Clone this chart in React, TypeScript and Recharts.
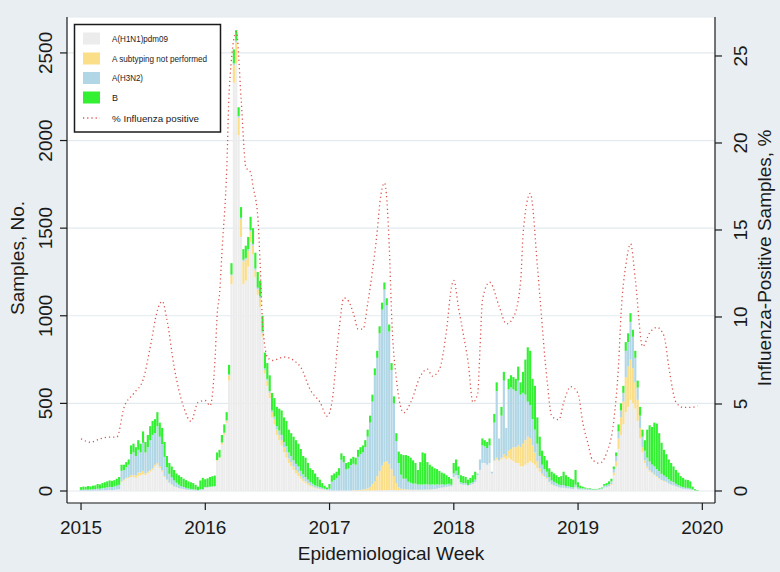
// Influenza surveillance chart: weekly samples by subtype with % positive line
import React from 'react';
import { ComposedChart, Bar, Line, XAxis, YAxis, CartesianGrid } from 'recharts';

const xTicks = [2015, 2016, 2017, 2018, 2019, 2020];
const leftTicks = [0, 500, 1000, 1500, 2000, 2500];
const rightTicks = [0, 5, 10, 15, 20, 25];

// weekly counts, 52 weeks per year, 2015..2019 (one row per year)
const h1n1 = [
  2,2,2,2,2,2,3,3,3,4, 4,5,5,5,6,8,10,50,60,70, 75,80,80,75,85,90,95,90,100,110, 120,140,150,130,110,80,60,45,35,25, 20,15,12,10,8,6,5,4,3,2, 4,5,
  20,20,22,23,25,170,185,265,320,390, 630,1180,2330,2440,2030,1450,1180,1200,1280,1420, 1350,1220,1120,1050,880,670,600,530,420,380, 320,290,260,220,190,160,140,120,100,85, 70,55,45,35,25,20,15,12,10,8, 5,4,
  3,3,3,3,3,3,3,3,3,3, 3,3,3,3,3,3,3,3,4,4, 4,4,4,5,5,5,5,5,5,5, 5,5,5,5,5,5,5,5,5,5, 6,6,6,8,10,12,15,18,20,22, 25,25,
  80,90,70,40,35,35,30,35,40,50, 90,120,160,160,150,160,100,170,180,170, 180,190,180,190,180,170,160,160,140,140, 150,160,170,160,150,130,110,90,80,70, 50,35,30,25,20,18,18,15,14,12, 10,20,
  10,8,8,8,6,6,5,5,5,7, 10,20,22,25,35,90,140,240,320,380, 450,480,520,500,470,400,300,220,160,130, 110,100,90,80,70,60,55,50,40,35, 30,25,20,15,12,10,10,8,5,2, 1,0,
];

const notSubtyped = [
  0,0,0,0,0,0,0,0,0,0, 0,0,0,0,0,0,0,5,5,5, 5,10,10,15,20,15,20,10,10,10, 10,10,10,10,8,5,5,3,2,2, 2,1,1,1,0,0,0,0,0,0, 0,0,
  0,0,0,0,0,5,5,10,10,10, 30,50,100,120,100,100,130,120,90,60, 50,40,30,50,20,20,30,30,30,30, 30,30,30,30,30,25,25,20,20,20, 15,15,10,10,8,6,5,4,3,2, 2,1,
  0,0,0,0,0,0,0,0,0,0, 2,2,3,3,5,8,12,20,35,50, 80,110,140,160,165,150,120,80,40,15, 8,5,5,3,2,2,2,2,2,2, 2,2,2,2,1,1,1,1,1,1, 1,1,
  0,0,0,0,0,0,0,0,0,0, 0,0,0,0,0,0,0,5,10,5, 10,20,20,40,60,80,90,100,110,130, 140,150,130,100,70,40,20,10,5,5, 2,2,2,1,1,1,1,1,1,1, 1,1,
  0,0,0,0,0,0,0,0,0,0, 0,0,0,2,5,15,30,60,100,130, 200,230,230,200,150,120,60,30,15,10, 8,6,5,5,4,3,3,2,2,1, 1,1,1,1,1,0,0,0,0,0, 0,0,
];

const h3n2 = [
  5,5,6,6,6,8,8,10,10,12, 14,16,18,18,20,22,25,60,55,60, 70,120,130,110,130,115,160,120,140,170, 190,180,210,170,150,110,70,50,40,33, 25,20,15,12,10,8,7,6,5,3, 6,5,
  2,2,3,3,3,2,2,2,3,3, 5,5,10,10,10,10,10,10,10,10, 10,10,10,10,10,10,10,10,10,15, 20,25,30,30,35,35,35,35,35,35, 30,25,25,20,18,15,12,10,10,8, 6,5,
  10,50,60,70,85,175,160,120,125,145, 150,145,189,204,212,239,295,367,471,606, 676,786,891,985,890,755,565,415,240,140, 80,60,60,45,40,35,35,30,30,30, 30,30,28,28,25,25,20,20,15,15, 15,10,
  20,25,20,10,10,10,5,10,10,15, 10,60,100,95,95,100,10,215,380,125, 240,420,160,350,350,330,320,370,300,290, 260,200,190,150,130,100,70,50,40,35, 28,23,20,18,15,15,15,12,12,10, 10,15,
  10,7,7,6,5,5,4,4,3,4, 5,10,10,13,15,20,30,40,40,50, 150,140,215,180,140,70,70,60,55,50, 50,45,45,40,40,35,30,28,25,22, 20,15,12,10,10,8,8,6,4,2, 1,0,
];

const fluB = [
  15,18,16,20,18,20,21,27,25,29, 32,34,37,35,36,40,45,35,30,30, 30,50,50,50,55,50,65,60,70,80, 80,80,80,80,92,85,65,62,63,60, 53,54,52,47,44,41,38,35,27,20, 50,65,
  45,50,55,58,60,43,43,43,47,47, 55,65,80,60,50,60,60,70,70,75, 90,90,90,90,90,90,90,90,100,105, 110,125,140,140,145,130,130,135,135,130, 125,105,110,95,79,79,68,54,42,27, 17,10,
  27,37,37,37,42,37,37,37,37,37, 40,40,40,40,40,40,40,40,40,40, 40,40,40,40,40,40,40,40,45,65, 117,135,135,147,143,133,118,83,128,183, 177,127,114,102,94,87,79,66,64,52, 39,34,
  60,65,50,40,40,35,30,30,40,45, 0,0,40,35,35,40,0,50,50,0, 50,50,0,60,70,70,70,80,70,120, 200,310,310,230,250,150,110,80,75,65, 50,50,48,46,44,51,76,62,53,47, 44,84,
  30,15,10,6,4,4,3,3,2,4, 5,10,13,15,15,15,20,40,40,40, 50,50,50,40,40,40,50,40,60,160, 207,214,250,260,216,177,147,130,113,102, 89,79,72,59,52,47,45,41,16,6, 3,0,
];

// % influenza positive, read at these week indexes (0 = 2015 week 1)
const pctWeeks = [
  0,4,8,12,15,18,22,26,29,32,34,36,39,43,46,49,52,54,56,57,58,59,61,62,65,67,69,71,72,74,75,76,78,80,85,89,92,96,
  100,103,105,108,110,112,114,116,118,120,122,124,125,127,129,130,132,135,138,142,145,147,150,153,155,156,158,160,
  162,164,166,167,168,171,175,178,181,184,185,188,191,192,195,197,200,202,205,208,210,212,214,217,220,223,225,226,
  228,230,232,235,238,241,244,246,249,252,255,258,
];
const pctValues = [
  3.0,2.8,3.0,3.1,3.1,4.8,5.6,6.4,8.3,10.4,10.9,9.8,7.1,4.8,4.0,5.1,5.2,4.9,7.4,10.2,11.4,13.8,18.6,23.0,26.4,22.5,
  18.6,18.3,17.5,15.7,12.9,9.6,7.7,7.5,7.7,7.5,7.1,5.8,
  5.1,4.3,5.1,9.3,11.1,10.9,10.2,9.3,9.3,10.8,12.7,15.0,16.5,17.7,14.0,10.0,6.4,4.5,5.1,6.6,7.0,6.6,7.0,9.3,11.7,12.1,10.5,9.0,
  7.4,5.1,5.6,8.3,11.0,12.0,10.6,9.6,10.0,12.1,14.8,17.1,12.9,11.2,6.4,4.3,4.1,5.1,6.0,5.6,3.9,2.8,1.8,1.6,2.2,4.1,7.4,10.2,
  13.0,14.2,12.1,8.3,9.1,9.4,8.9,7.1,5.1,4.8,4.8,4.9,
];

const rows: any[] = h1n1.map((v, i) => ({
  x: 2015 + i / 52,
  h1n1: v,
  notSubtyped: notSubtyped[i],
  h3n2: h3n2[i],
  fluB: fluB[i],
  pct: null,
}));
pctWeeks.forEach((w, k) => {
  rows[w].pct = pctValues[k];
});

const FONT = '"Liberation Sans", Arial, Helvetica, sans-serif';
const INK = '#1a1a1a';
const RED = '#d9534f';

const COLORS = {
  h1n1: '#ececec',
  notSubtyped: '#fbde88',
  h3n2: '#b1d7e6',
  fluB: '#33f033',
};

const bottomTick = (p: any) => (
  <text x={p.x} y={534} textAnchor="middle" fontSize={19} fontFamily={FONT} fill={INK}>
    {p.payload.value}
  </text>
);

// rotated labels, read bottom to top like the original
const leftTick = (p: any) => (
  <g transform={`translate(52 ${p.y})`}>
    <text transform="rotate(-90)" textAnchor="middle" fontSize={19} fontFamily={FONT} fill={INK}>
      {p.payload.value}
    </text>
  </g>
);

const rightTick = (p: any) => (
  <g transform={`translate(747 ${p.y})`}>
    <text transform="rotate(-90)" textAnchor="middle" fontSize={19} fontFamily={FONT} fill={INK}>
      {p.payload.value}
    </text>
  </g>
);

const legendItems = [
  { label: 'A(H1N1)pdm09', color: COLORS.h1n1, y: 38.5, len: 56 },
  { label: 'A subtyping not performed', color: COLORS.notSubtyped, y: 58.5, len: 95 },
  { label: 'A(H3N2)', color: COLORS.h3n2, y: 78, len: 31 },
  { label: 'B', color: COLORS.fluB, y: 97.5, len: 6 },
];

export default function App() {
  return (
    <div style={{ position: 'relative', width: 780, height: 572, background: '#e8eef1' }}>
      <style>{'body{margin:0}'}</style>
      <ComposedChart width={780} height={572} data={rows} margin={{ top: 17, right: 0, bottom: 0, left: 0 }}>
        <CartesianGrid vertical={false} stroke="#e3eaee" strokeWidth={1.2} fill="#ffffff" />
        <XAxis
          dataKey="x"
          type="number"
          domain={[2014.887, 2020.102]}
          ticks={xTicks}
          allowDataOverflow
          height={69}
          tickSize={7}
          tick={bottomTick}
          axisLine={{ stroke: INK, strokeWidth: 1.2 }}
          tickLine={{ stroke: INK, strokeWidth: 1.2 }}
        />
        <YAxis
          domain={[-68.5, 2705]}
          ticks={leftTicks}
          allowDataOverflow
          width={67}
          tickSize={7}
          tick={leftTick}
          axisLine={{ stroke: INK, strokeWidth: 1.2 }}
          tickLine={{ stroke: INK, strokeWidth: 1.2 }}
        />
        <YAxis
          yAxisId={1}
          orientation="right"
          domain={[-0.69, 27.24]}
          ticks={rightTicks}
          allowDataOverflow
          width={65}
          tickSize={7}
          tick={rightTick}
          axisLine={{ stroke: INK, strokeWidth: 1.2 }}
          tickLine={{ stroke: INK, strokeWidth: 1.2 }}
        />
        <Bar dataKey="h1n1" stackId="s" fill={COLORS.h1n1} barSize={3} isAnimationActive={false} />
        <Bar dataKey="notSubtyped" stackId="s" fill={COLORS.notSubtyped} barSize={3} isAnimationActive={false} />
        <Bar dataKey="h3n2" stackId="s" fill={COLORS.h3n2} barSize={3} isAnimationActive={false} />
        <Bar dataKey="fluB" stackId="s" fill={COLORS.fluB} barSize={3} isAnimationActive={false} />
        <Line
          yAxisId={1}
          dataKey="pct"
          type="monotone"
          stroke={RED}
          strokeWidth={1.3}
          strokeDasharray="1.2 3"
          dot={false}
          connectNulls
          isAnimationActive={false}
        />
      </ComposedChart>

      {/* titles and legend */}
      <svg width={780} height={572} style={{ position: 'absolute', left: 0, top: 0, pointerEvents: 'none' }}>
        <text transform="translate(24 258) rotate(-90)" textAnchor="middle" fontSize={19} fontFamily={FONT} fill={INK}>
          Samples, No.
        </text>
        <text transform="translate(771 258) rotate(-90)" textAnchor="middle" fontSize={19} fontFamily={FONT} fill={INK}>
          Influenza-Positive Samples, %
        </text>
        <text x={391} y={560} textAnchor="middle" fontSize={19} fontFamily={FONT} fill={INK}>
          Epidemiological Week
        </text>

        <rect x={74.5} y={24.5} width={146} height={107.5} fill="#ffffff" stroke={INK} strokeWidth={1.5} />
        {legendItems.map((it) => (
          <g key={it.label}>
            <rect x={83} y={it.y - 6} width={17} height={12} fill={it.color} />
            <text
              x={112}
              y={it.y + 3.3}
              fontSize={9.3}
              fontFamily={FONT}
              fill={INK}
              textLength={it.len}
              lengthAdjust="spacingAndGlyphs"
            >
              {it.label}
            </text>
          </g>
        ))}
        <line x1={83} x2={100} y1={118} y2={118} stroke={RED} strokeWidth={1.3} strokeDasharray="1.2 3" />
        <text x={112} y={121.5} fontSize={9.8} fontFamily={FONT} fill={INK} textLength={87} lengthAdjust="spacingAndGlyphs">
          % Influenza positive
        </text>
      </svg>
    </div>
  );
}
